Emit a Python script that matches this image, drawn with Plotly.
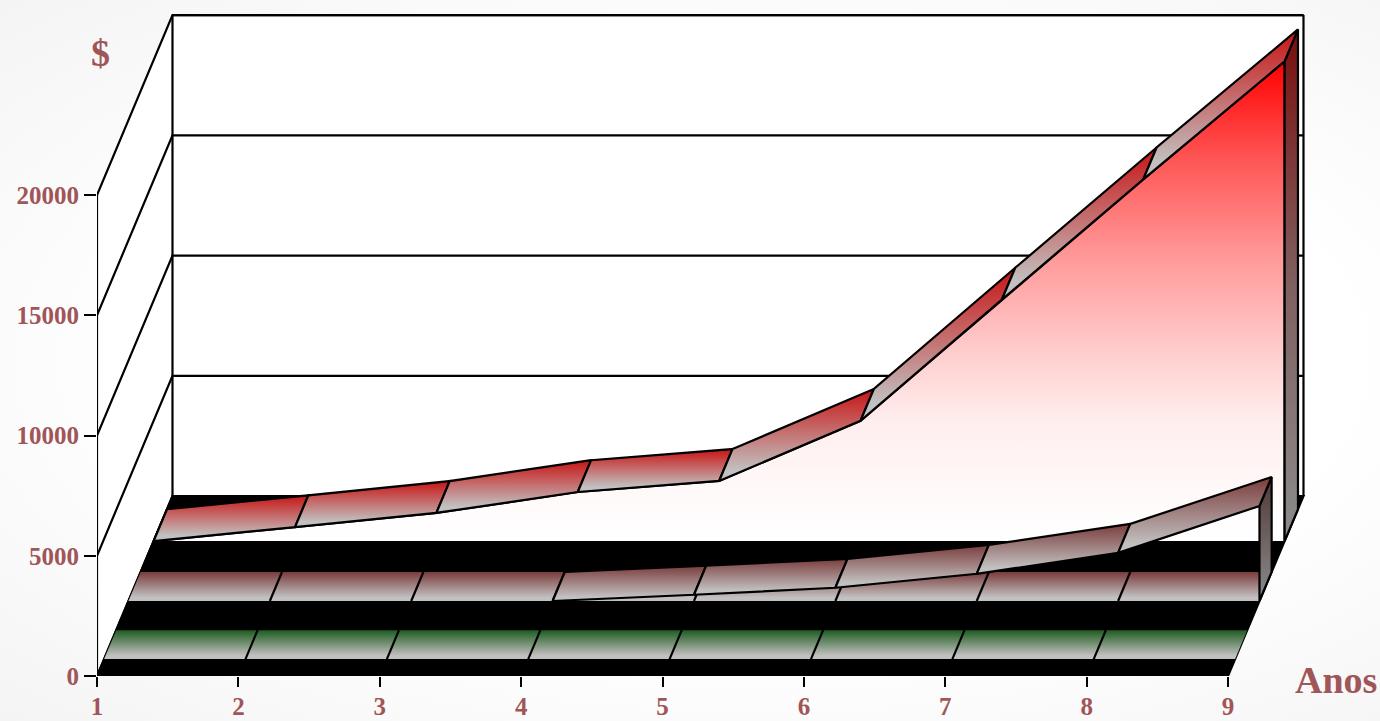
import plotly.graph_objects as go

# ---- data ----
years = [1, 2, 3, 4, 5, 6, 7, 8, 9]
value_ticks = [0, 5000, 10000, 15000, 20000]
value_labels = ["0", "5000", "10000", "15000", "20000"]
red_values = [0, 580, 1170, 2040, 2500, 5000, 10040, 15040, 19950]
maroon_values = [0, 0, 0, 0, 260, 550, 1130, 2000, 3950]
green_values = [0, 0, 0, 0, 0, 0, 0, 0, 0]

# ---- oblique projection (depth 0 = front of the floor, 1 = back wall) ----
DEPTH_X = 0.534      # axis years per full depth
DEPTH_Y = 7480       # axis value units per full depth
WALL_TOP = 20000
X_SCALE = 141.375    # px per year
Y_SCALE = 0.02405    # px per value unit
INK = "#000000"
LABEL = "#a05558"
FONT = "Liberation Serif"
LW = 2.2
PLOT_H = 676

RED_FACE = [[0, "#ffffff"], [0.09, "#fffafa"], [0.25, "#ffeeee"], [0.379, "#ffd0d0"],
            [0.588, "#ff9a9a"], [0.797, "#ff5555"], [1, "#ff0000"]]


def px(year, depth):
    return year + depth * DEPTH_X


def py(value, depth):
    return value + depth * DEPTH_Y


fig = go.Figure()


def poly(pts, fill=None, grad=None, width=0.0, close=True, color=INK):
    xs = [px(p[0], p[1]) for p in pts]
    ys = [py(p[2], p[1]) for p in pts]
    if close:
        xs.append(xs[0])
        ys.append(ys[0])
    kw = dict(x=xs, y=ys, mode="lines", hoverinfo="skip", showlegend=False,
              cliponaxis=False, line=dict(width=width, color=color))
    if fill or grad:
        kw["fill"] = "toself"
    if fill:
        kw["fillcolor"] = fill
    if grad:
        kw["fillgradient"] = dict(type="vertical", colorscale=grad)
    fig.add_trace(go.Scatter(**kw))


y0, y1 = years[0], years[-1]

# walls and floor
poly([(y0, 0, 0), (y0, 1, 0), (y0, 1, WALL_TOP), (y0, 0, WALL_TOP)], fill="#ffffff")
poly([(y0, 1, 0), (y1, 1, 0), (y1, 1, WALL_TOP), (y0, 1, WALL_TOP)], fill="#ffffff")
poly([(y0, 0, 0), (y1, 0, 0), (y1, 1, 0), (y0, 1, 0)], fill="#000000", width=LW)
for v in value_ticks:
    poly([(y0, 0, v), (y0, 1, v), (y1, 1, v)], width=LW, close=False)
poly([(y0, 1, WALL_TOP), (y1, 1, WALL_TOP)], width=LW, close=False)
poly([(y0, 0, 0), (y0, 0, WALL_TOP)], width=LW, close=False)
poly([(y0, 1, 0), (y0, 1, WALL_TOP)], width=LW, close=False)
poly([(y1, 1, 0), (y1, 1, WALL_TOP)], width=LW, close=False)


def ribbons(vals, d0, d1, top, bottom="#c2c0c0", outline=True, skip_flat=False):
    for i in range(len(years) - 1):
        if skip_flat and vals[i] == 0 and vals[i + 1] == 0:
            continue
        a, b = years[i], years[i + 1]
        poly([(a, d0, vals[i]), (b, d0, vals[i + 1]),
              (b, d1, vals[i + 1]), (a, d1, vals[i])],
             grad=[[0, bottom], [0.12, bottom], [1, top]], width=LW if outline else 0)


def dividers(d0, d1, vals):
    for yr, v in list(zip(years, vals))[1:-1]:
        poly([(yr, d0, v), (yr, d1, v)], width=LW, close=False)


# red series (rear)
RED = (0.75, 0.927)
front = [(y, RED[0], v) for y, v in zip(years, red_values)]
poly(front + [(y1, RED[0], 0), (y0, RED[0], 0)], grad=RED_FACE)
poly(front + [(y1, RED[0], 0)], width=LW, close=False)
poly([(y1, RED[0], 0), (y1, RED[1], 0), (y1, RED[1], red_values[-1]), (y1, RED[0], red_values[-1])],
     grad=[[0, "#8c8c8c"], [0.5, "#806060"], [1, "#7a0e0e"]], width=LW)
ribbons(red_values, RED[0], RED[1], "#c81414")

# maroon series (middle)
MAROON = (0.417, 0.578)
ribbons([0] * len(years), MAROON[0], MAROON[1], "#7a3c3c", outline=False)
dividers(MAROON[0], MAROON[1], [0] * len(years))
poly([(y1, MAROON[0], 0), (y1, MAROON[1], 0),
      (y1, MAROON[1], maroon_values[-1]), (y1, MAROON[0], maroon_values[-1])],
     grad=[[0, "#8c8c8c"], [1, "#523838"]], width=LW)
ribbons(maroon_values, MAROON[0], MAROON[1], "#7a3c3c", skip_flat=True)

# green series (front)
GREEN = (0.094, 0.255)
ribbons(green_values, GREEN[0], GREEN[1], "#1e5c20", outline=False)
dividers(GREEN[0], GREEN[1], green_values)

title_font = dict(family=FONT, size=38, color=LABEL, weight="bold")
tick_font = dict(family=FONT, size=25, color=LABEL, weight="bold")

fig.update_layout(
    width=1380, height=721, autosize=False,
    margin=dict(l=97, r=0, t=0, b=721 - PLOT_H, autoexpand=False),
    paper_bgcolor="rgba(0,0,0,0)", plot_bgcolor="rgba(0,0,0,0)",
    showlegend=False,
    xaxis=dict(range=[1, 1 + (1380 - 97) / X_SCALE], tickvals=years, ticks="outside",
               ticklen=10, tickwidth=2.2, tickcolor=INK, showgrid=False, zeroline=False,
               showline=False, tickfont=tick_font, fixedrange=True, automargin=False,
               ticklabelstandoff=-2),
    yaxis=dict(range=[0, PLOT_H / Y_SCALE], tickmode="array", tickvals=value_ticks,
               ticktext=value_labels, ticks="outside",
               ticklen=12, tickwidth=2.2, tickcolor=INK, showgrid=False, zeroline=False,
               showline=False, tickfont=tick_font, fixedrange=True, automargin=False),
    annotations=[
        dict(text="$", xref="paper", yref="paper", x=(100 - 97) / 1283,
             y=(PLOT_H - 53) / PLOT_H, showarrow=False, font=title_font,
             xanchor="center", yanchor="middle"),
        dict(text="Anos", xref="paper", yref="paper", x=(1336 - 97) / 1283,
             y=(PLOT_H - 680) / PLOT_H, showarrow=False, font=title_font,
             xanchor="center", yanchor="middle"),
    ],
)

post = """
document.body.style.margin='0';
document.body.style.overflow='hidden';
document.documentElement.style.height='100%';
document.body.style.height='100%';
document.body.style.background='radial-gradient(ellipse at 55% 50%, #ffffff 55%, #f4f4f4 100%)';
"""
fig.write_html("out.html", config=dict(displayModeBar=False), post_script=post)
